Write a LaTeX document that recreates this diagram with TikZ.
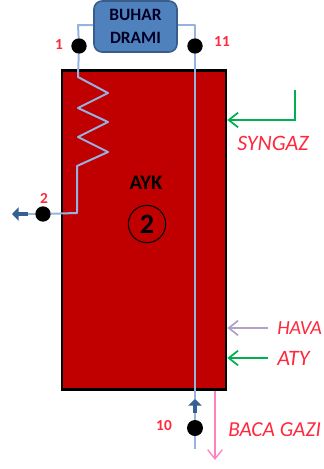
\documentclass[tikz,border=0pt]{standalone}
\usepackage{fontspec}
\setmainfont{Carlito}
\usetikzlibrary{arrows.meta}

\definecolor{fireRed}{RGB}{192,0,0}
\definecolor{pipeBlue}{RGB}{149,179,225}
\definecolor{drumBlue}{RGB}{79,129,189}
\definecolor{drumEdge}{RGB}{56,93,138}
\definecolor{darkArrow}{RGB}{54,96,146}
\definecolor{syngasGreen}{RGB}{0,176,80}
\definecolor{airLilac}{RGB}{179,162,199}
\definecolor{fluePink}{RGB}{255,130,190}
\definecolor{labelRed}{RGB}{255,40,60}

\tikzset{
  pipe/.style={pipeBlue, line width=1.5pt, line join=round},
  statepoint/.style={circle, fill=black, inner sep=0pt, minimum width=11.5pt},
  statelabel/.style={text=labelRed, font=\fontsize{11.5}{11.5}\selectfont\bfseries, inner sep=0pt},
  streamlabel/.style={text=labelRed, font=\fontsize{16.5}{16.5}\selectfont\itshape, inner sep=0pt, anchor=west},
  streamarrow/.style={line width=1.6pt, -{Straight Barb[length=7pt,width=11pt,line width=1.3pt]}},
  flowtip/.style={darkArrow, line width=3.5pt, -{Triangle[length=5pt,width=10pt]}},
}

\begin{document}
\begin{tikzpicture}[x=0.75pt, y=-0.75pt, >=stealth]
  \useasboundingbox (0,0) rectangle (324,469);

  % 1. Boiler body
  \node[draw=black, line width=2pt, fill=fireRed, minimum width=164pt*0.75, minimum height=319pt*0.75, inner sep=0pt] (ayk) at (144,230) {};
  \node[font=\fontsize{15.5}{15.5}\selectfont\bfseries, inner sep=0pt] (ayktext) at (146,183) {AYK};
  \node[circle, draw=black, line width=0.8pt, minimum width=28pt, inner sep=0pt, font=\fontsize{21}{21}\selectfont\bfseries] (number) at (147,224) {2};

  % 2. Drum and state points
  \node[draw=drumEdge, line width=1.2pt, fill=drumBlue, rounded corners=6pt, minimum width=83pt*0.75, minimum height=51pt*0.75, inner sep=0pt, align=center, text=black!85!blue, font=\fontsize{13}{17.5}\selectfont\bfseries] (drum) at (135.5,26.5) {BUHAR\\DRAMI};
  \coordinate (drumL) at (78,25);
  \coordinate (drumR) at (195,25);
  \coordinate (bend) at (77,213);
  \coordinate (riserEnd) at (195,449);

  \node[statepoint] (p1) at (79,46) {};
  \node[statepoint] (p11) at (195,46) {};
  \node[statepoint] (p2) at (43,214) {};
  \node[statepoint, minimum height=11.5pt, minimum width=12pt] (p10) at (195,428) {};

  % 3. Pipes
  \draw[pipe] (drum.west |- drumL) -- (drumL) -- (p1);
  \draw[pipe] (p1) -- (78,77) -- (108,93) -- (78,108) -- (108,122) -- (78,137) -- (108,152) -- (77,166) -- (bend) -- (p2);
  \draw[pipe] (drum.east |- drumR) -- (drumR) -- (p11);
  \draw[pipe] (p11) -- (p10);
  \draw[pipe] (p10) -- (riserEnd);
  \coordinate (outL) at (12,214);
  \coordinate (inB) at (195,399);
  \draw[pipe] (p2) -- (28,214);
  \draw[flowtip] (28,214) -- (outL);
  \draw[flowtip] (195,413) -- (inB);

  % 4. Streams
  \coordinate (syngasStart) at (295,90);
  \coordinate (syngasBend) at (295,120);
  \draw[syngasGreen, streamarrow] (syngasStart) -- (syngasBend) -- (ayk.east |- syngasBend);
  \coordinate (airStart) at (268,328);
  \draw[airLilac, streamarrow] (airStart) -- (ayk.east |- airStart);
  \coordinate (atyStart) at (268,358);
  \draw[syngasGreen, streamarrow] (atyStart) -- (ayk.east |- atyStart);
  \coordinate (flueStart) at (215,391);
  \coordinate (flueEnd) at (215,460);
  \draw[fluePink, line width=1.2pt, -{Straight Barb[length=7pt,width=11pt,line width=1pt]}] (flueStart) -- (flueEnd);

  % 5. Labels
  \node[statelabel] (l1) at (59,45) {1};
  \node[statelabel] (l11) at (222,42) {11};
  \node[statelabel] (l2) at (44,198) {2};
  \node[statelabel] (l10) at (164,426) {10};
  \node[streamlabel] (syngaz) at (237,143) {SYNGAZ};
  \node[streamlabel, font=\fontsize{15}{15}\selectfont\itshape] (hava) at (277,328) {HAVA};
  \node[streamlabel] (aty) at (277,358) {ATY};
  \node[streamlabel, font=\fontsize{16}{16}\selectfont\itshape] (baca) at (228,430) {BACA GAZI};
\end{tikzpicture}
\end{document}
